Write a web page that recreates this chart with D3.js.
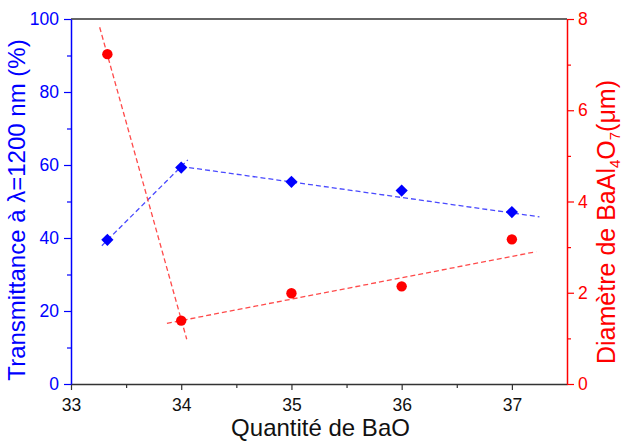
<!DOCTYPE html>
<html><head><meta charset="utf-8">
<script src="https://cdn.jsdelivr.net/npm/d3@7"></script>
<style>
body{margin:0;background:#fff}
svg{display:block}
text{font-family:"Liberation Sans",Arial,sans-serif}
</style>
</head><body>
<svg id="c" width="624" height="442"></svg>
<script>
// Data
const baoQty = [33.33, 34, 35, 36, 37];
const transmittance = [39.5, 59.3, 55.4, 53.0, 47.1];
const diameter = [7.23, 1.39, 1.99, 2.14, 3.17];
// dashed fit lines (data-space endpoints)
const transFitA = [[33.28, 37.9], [34.06, 61.4]];
const transFitB = [[34.0, 59.6], [37.25, 45.8]];
const diamFitA = [[33.26, 7.82], [34.05, 0.98]];
const diamFitB = [[33.87, 1.33], [37.22, 2.90]];
const xTicks = [33, 34, 35, 36, 37];
const xMinor = [33.5, 34.5, 35.5, 36.5];
const yLTicks = [0, 20, 40, 60, 80, 100];
const yLMinor = [10, 30, 50, 70, 90];
const yRTicks = [0, 2, 4, 6, 8];
const yRMinor = [1, 3, 5, 7];

const BLUE = "#0000ff", RED = "#ff0000", DARK = "#333";
const L = 71, R = 567, T = 19, B = 384;
const svg = d3.select("#c");
const x = d3.scaleLinear([33, 37.5], [L, R]);
const yL = d3.scaleLinear([0, 100], [B, T]);
const yR = d3.scaleLinear([0, 8], [B, T]);

// top border
svg.append("line").attr("x1", L).attr("x2", R).attr("y1", T).attr("y2", T)
  .attr("stroke", DARK).attr("stroke-width", 1.5);

function styleAxis(g, color, size) {
  g.select(".domain").attr("stroke", color).attr("stroke-width", 1.5);
  g.selectAll(".tick line").attr("stroke", color).attr("stroke-width", 1.2);
  g.selectAll(".tick text").attr("fill", color).attr("font-size", size)
    .attr("font-family", '"Liberation Sans",Arial,sans-serif');
}

// bottom axis
const gx = svg.append("g").attr("transform", `translate(0,${B})`)
  .call(d3.axisBottom(x).tickValues(xTicks).tickFormat(d3.format("d")).tickSize(6).tickSizeOuter(0).tickPadding(9));
styleAxis(gx, DARK, 17.5);
gx.selectAll(".tick text").attr("fill", "#111");
const gxm = svg.append("g").attr("transform", `translate(0,${B})`)
  .call(d3.axisBottom(x).tickValues(xMinor).tickFormat("").tickSize(4).tickSizeOuter(0));
styleAxis(gxm, DARK, 17.5);
gxm.select(".domain").remove();

// left axis
const gl = svg.append("g").attr("transform", `translate(${L},0)`)
  .call(d3.axisLeft(yL).tickValues(yLTicks).tickSize(7).tickSizeOuter(0).tickPadding(5));
styleAxis(gl, BLUE, 17.5);
const glm = svg.append("g").attr("transform", `translate(${L},0)`)
  .call(d3.axisLeft(yL).tickValues(yLMinor).tickFormat("").tickSize(4).tickSizeOuter(0));
styleAxis(glm, BLUE, 17.5);
glm.select(".domain").remove();

// right axis
const gr = svg.append("g").attr("transform", `translate(${R},0)`)
  .call(d3.axisRight(yR).tickValues(yRTicks).tickSize(7).tickSizeOuter(0).tickPadding(4));
styleAxis(gr, RED, 17.5);
const grm = svg.append("g").attr("transform", `translate(${R},0)`)
  .call(d3.axisRight(yR).tickValues(yRMinor).tickFormat("").tickSize(4).tickSizeOuter(0));
styleAxis(grm, RED, 17.5);
grm.select(".domain").remove();

// fit lines
const lineL = d3.line().x(d => x(d[0])).y(d => yL(d[1]));
const lineR = d3.line().x(d => x(d[0])).y(d => yR(d[1]));
[transFitA, transFitB].forEach(f => svg.append("path").attr("d", lineL(f))
  .attr("fill", "none").attr("stroke", "#4a4aff").attr("stroke-width", 1.3).attr("stroke-dasharray", "5,3"));
[diamFitA, diamFitB].forEach(f => svg.append("path").attr("d", lineR(f))
  .attr("fill", "none").attr("stroke", "#ff4a4a").attr("stroke-width", 1.3).attr("stroke-dasharray", "5,3"));

// markers
const diamond = d3.symbol().type(d3.symbolDiamond2).size(95);
svg.append("g").selectAll("path").data(baoQty).join("path")
  .attr("d", diamond)
  .attr("transform", (d, i) => `translate(${x(d)},${yL(transmittance[i])})`)
  .attr("fill", BLUE);
svg.append("g").selectAll("circle").data(baoQty).join("circle")
  .attr("cx", d => x(d)).attr("cy", (d, i) => yR(diameter[i])).attr("r", 5.2)
  .attr("fill", RED);

// titles
svg.append("text").attr("x", 320.5).attr("y", 436).attr("text-anchor", "middle")
  .attr("font-size", 24).attr("fill", "#111").text("Quantité de BaO");
svg.append("text").attr("transform", `translate(25,210) rotate(-90)`)
  .attr("text-anchor", "middle").attr("font-size", 24).attr("fill", BLUE)
  .text("Transmittance à λ=1200 nm (%)");
const rt = svg.append("text").attr("transform", `translate(615,222) rotate(-90)`)
  .attr("text-anchor", "middle").attr("font-size", 25).attr("fill", RED);
rt.append("tspan").text("Diamètre de BaAl");
rt.append("tspan").attr("font-size", 15).attr("dy", 5).text("4");
rt.append("tspan").attr("dy", -5).text("O");
rt.append("tspan").attr("font-size", 15).attr("dy", 5).text("7");
rt.append("tspan").attr("dy", -5).text("(μm)");
</script>
</body></html>
